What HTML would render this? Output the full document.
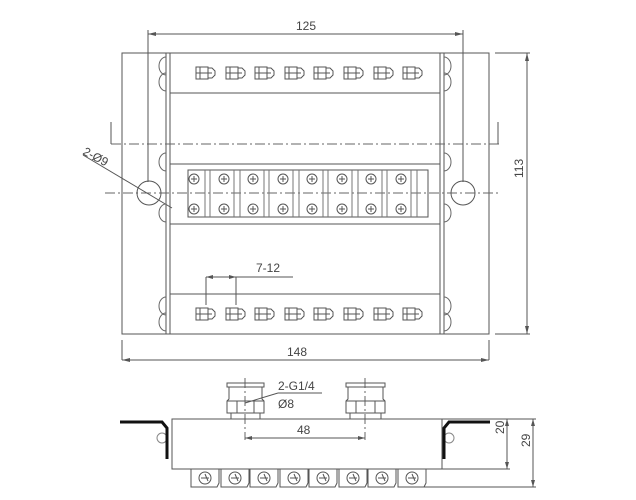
<!DOCTYPE html>
<html><head><meta charset="utf-8"><style>
html,body{margin:0;padding:0;background:#fff;width:636px;height:500px;overflow:hidden}
svg{display:block}
text{font-family:"Liberation Sans",sans-serif;fill:#444;font-size:12px}
</style></head><body>
<svg width="636" height="500" viewBox="0 0 636 500" xmlns="http://www.w3.org/2000/svg">
<defs>
<g id="fit" fill="#fff" stroke="#555" stroke-width="1">
<rect x="-10" y="-6" width="12" height="12"/>
<path d="M2,-5 L6,-5 L9,-2 L9,2 L6,5 L2,5 Z"/>
<line x1="-6" y1="-6" x2="-6" y2="6"/><line x1="-10" y1="0" x2="6" y2="0"/>
</g>
<g id="scr" fill="none" stroke="#555" stroke-width="1">
<circle r="5"/><line x1="-3" y1="0" x2="3" y2="0"/><line x1="0" y1="-3" x2="0" y2="3"/>
</g>
<g id="bump" fill="none" stroke="#666" stroke-width="1">
<path d="M0,-9 A7,9 0 0 0 0,9"/>
</g>
<g id="bt" fill="none" stroke="#555" stroke-width="1">
<path d="M-14,0 L-14,18 L12,18 L14,14 L14,0"/>
<circle cx="0" cy="9" r="6"/><line x1="-4" y1="9" x2="4" y2="9"/><line x1="0" y1="5" x2="3" y2="12"/>
</g>
</defs>
<g stroke="#555" stroke-width="1" fill="none">
<rect x="122" y="53" width="367" height="281"/>
<line x1="166" y1="53" x2="166" y2="334"/><line x1="170" y1="53" x2="170" y2="334"/>
<line x1="440" y1="53" x2="440" y2="334"/><line x1="444" y1="53" x2="444" y2="334"/>
<line x1="170" y1="93" x2="440" y2="93"/>
<line x1="170" y1="294" x2="440" y2="294"/>
<rect x="170" y="164" width="270" height="60"/>
<rect x="188" y="170" width="240" height="47"/>
<g stroke-dasharray="10,3,2,3" stroke="#666">
<line x1="111" y1="144" x2="500" y2="144"/>
<line x1="105" y1="193" x2="500" y2="193"/>
<line x1="245" y1="378" x2="245" y2="440"/>
<line x1="365" y1="378" x2="365" y2="440"/>
</g>
<line x1="111" y1="122" x2="111" y2="144"/><line x1="498" y1="122" x2="498" y2="144"/>
<circle cx="149" cy="193" r="12"/><circle cx="463" cy="193" r="12"/>
<line x1="148" y1="30" x2="148" y2="182"/><line x1="463" y1="30" x2="463" y2="182"/>
<line x1="148" y1="34" x2="463" y2="34"/>
<line x1="122" y1="340" x2="122" y2="360"/><line x1="489" y1="340" x2="489" y2="360"/>
<line x1="122" y1="360" x2="489" y2="360"/>
<line x1="495" y1="53" x2="530" y2="53"/><line x1="495" y1="334" x2="530" y2="334"/>
<line x1="527" y1="53" x2="527" y2="334"/>
<line x1="83" y1="155" x2="172" y2="208"/>
<line x1="206" y1="277" x2="293" y2="277"/>
<line x1="206" y1="277" x2="206" y2="305"/><line x1="236" y1="277" x2="236" y2="305"/>
<g stroke="#777">
<line x1="205" y1="170" x2="205" y2="217"/><line x1="210" y1="170" x2="210" y2="217"/>
<line x1="234" y1="170" x2="234" y2="217"/><line x1="240" y1="170" x2="240" y2="217"/>
<line x1="264" y1="170" x2="264" y2="217"/><line x1="269" y1="170" x2="269" y2="217"/>
<line x1="293" y1="170" x2="293" y2="217"/><line x1="299" y1="170" x2="299" y2="217"/>
<line x1="323" y1="170" x2="323" y2="217"/><line x1="328" y1="170" x2="328" y2="217"/>
<line x1="352" y1="170" x2="352" y2="217"/><line x1="358" y1="170" x2="358" y2="217"/>
<line x1="382" y1="170" x2="382" y2="217"/><line x1="387" y1="170" x2="387" y2="217"/>
<line x1="411" y1="170" x2="411" y2="217"/><line x1="417" y1="170" x2="417" y2="217"/>
</g>
</g>
<g fill="#555">
<path d="M148,34 l8,-2 v4z"/><path d="M463,34 l-8,-2 v4z"/>
<path d="M122,360 l8,-2 v4z"/><path d="M489,360 l-8,-2 v4z"/>
<path d="M527,53 l-2,8 h4z"/><path d="M527,334 l-2,-8 h4z"/>
<path d="M206,277 l7,-2 v4z"/><path d="M236,277 l-7,-2 v4z"/>
<path d="M245,438 l7,-2 v4z"/><path d="M365,438 l-7,-2 v4z"/>
<path d="M507,419 l-2,7 h4z"/><path d="M507,469 l-2,-7 h4z"/>
<path d="M533,419 l-2,7 h4z"/><path d="M533,487 l-2,-7 h4z"/>
</g>
<g>
<use href="#fit" x="206" y="73"/><use href="#fit" x="236" y="73"/><use href="#fit" x="265" y="73"/><use href="#fit" x="295" y="73"/>
<use href="#fit" x="324" y="73"/><use href="#fit" x="354" y="73"/><use href="#fit" x="384" y="73"/><use href="#fit" x="413" y="73"/>
<use href="#fit" x="206" y="314"/><use href="#fit" x="236" y="314"/><use href="#fit" x="265" y="314"/><use href="#fit" x="295" y="314"/>
<use href="#fit" x="324" y="314"/><use href="#fit" x="354" y="314"/><use href="#fit" x="384" y="314"/><use href="#fit" x="413" y="314"/>
</g>
<g>
<use href="#scr" x="194" y="179"/><use href="#scr" x="224" y="179"/><use href="#scr" x="253" y="179"/><use href="#scr" x="283" y="179"/>
<use href="#scr" x="312" y="179"/><use href="#scr" x="342" y="179"/><use href="#scr" x="371" y="179"/><use href="#scr" x="401" y="179"/>
<use href="#scr" x="194" y="209"/><use href="#scr" x="224" y="209"/><use href="#scr" x="253" y="209"/><use href="#scr" x="283" y="209"/>
<use href="#scr" x="312" y="209"/><use href="#scr" x="342" y="209"/><use href="#scr" x="371" y="209"/><use href="#scr" x="401" y="209"/>
</g>
<g>
<use href="#bump" x="166" y="66"/><use href="#bump" x="166" y="82"/><use href="#bump" x="166" y="162"/><use href="#bump" x="166" y="213"/>
<use href="#bump" x="166" y="306"/><use href="#bump" x="166" y="322"/>
</g>
<g transform="translate(888 0) scale(-1 1)">
<use href="#bump" x="444" y="66"/><use href="#bump" x="444" y="82"/><use href="#bump" x="444" y="162"/><use href="#bump" x="444" y="213"/>
<use href="#bump" x="444" y="306"/><use href="#bump" x="444" y="322"/>
</g>
<g stroke="#555" stroke-width="1" fill="none">
<rect x="172" y="419" width="270" height="50"/>
<rect x="227" y="383" width="37" height="4"/>
<path d="M229,387 L229,399 L227,401 L227,413 L264,413 L264,401 L262,399 L262,387"/>
<line x1="227" y1="401" x2="264" y2="401"/>
<line x1="237" y1="401" x2="237" y2="413"/><line x1="254" y1="401" x2="254" y2="413"/>
<rect x="231" y="413" width="29" height="6"/>
<rect x="346" y="383" width="39" height="4"/>
<path d="M348,387 L348,399 L346,401 L346,413 L385,413 L385,401 L383,399 L383,387"/>
<line x1="346" y1="401" x2="385" y2="401"/>
<line x1="356" y1="401" x2="356" y2="413"/><line x1="375" y1="401" x2="375" y2="413"/>
<rect x="350" y="413" width="31" height="6"/>
<line x1="245" y1="403" x2="278" y2="393"/><line x1="278" y1="393" x2="322" y2="393"/>
<line x1="245" y1="438" x2="365" y2="438"/>
<line x1="442" y1="419" x2="510" y2="419"/><line x1="442" y1="469" x2="510" y2="469"/>
<line x1="507" y1="419" x2="507" y2="469"/>
<line x1="510" y1="419" x2="536" y2="419"/><line x1="420" y1="487" x2="536" y2="487"/>
<line x1="533" y1="419" x2="533" y2="487"/>
<circle cx="162" cy="438" r="5" stroke="#888"/><circle cx="449" cy="438" r="5" stroke="#888"/>
</g>
<g stroke="#111" stroke-width="3" fill="none">
<path d="M120,422 L162,422 L167,428 L167,459"/>
<path d="M490,422 L449,422 L444,428 L444,459"/>
</g>
<g>
<use href="#bt" x="205" y="469"/><use href="#bt" x="235" y="469"/><use href="#bt" x="264" y="469"/><use href="#bt" x="294" y="469"/>
<use href="#bt" x="323" y="469"/><use href="#bt" x="353" y="469"/><use href="#bt" x="382" y="469"/><use href="#bt" x="412" y="469"/>
</g>
<text x="296" y="30">125</text>
<text x="287" y="356">148</text>
<text x="256" y="272">7-12</text>
<text x="82" y="154" transform="rotate(28 82 154)">2-Ø9</text>
<text x="0" y="0" transform="translate(523 178) rotate(-90)">113</text>
<text x="278" y="390" font-size="13">2-G1/4</text>
<text x="278" y="408" font-size="13">Ø8</text>
<text x="297" y="434">48</text>
<text x="0" y="0" transform="translate(504 434) rotate(-90)">20</text>
<text x="0" y="0" transform="translate(530 447) rotate(-90)">29</text>
</svg>
</body></html>
